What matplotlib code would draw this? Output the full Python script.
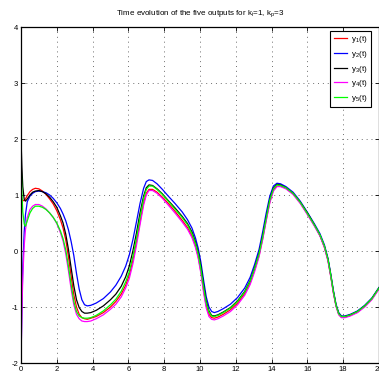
import matplotlib

matplotlib.use("Agg")
import matplotlib.pyplot as plt

# sample times
t = [0.0, 0.05, 0.1, 0.18, 0.25, 0.35, 0.5, 0.65, 0.8, 1.0, 1.2, 1.4, 1.6, 1.8, 2.0,
     2.2, 2.35, 2.5, 2.65, 2.8, 2.95, 3.1, 3.25, 3.4, 3.55, 3.7, 3.9, 4.2, 4.6, 5.0,
     5.3, 5.6, 5.85, 6.05, 6.25, 6.45, 6.65, 6.85, 7.0, 7.15, 7.35, 7.6, 7.9, 8.2,
     8.6, 9.0, 9.3, 9.55, 9.75, 9.9, 10.05, 10.2, 10.35, 10.5, 10.65, 10.8, 11.0,
     11.3, 11.7, 12.1, 12.5, 12.8, 13.05, 13.3, 13.5, 13.7, 13.9, 14.1, 14.3, 14.5,
     14.8, 15.2, 15.6, 16.0, 16.4, 16.7, 16.95, 17.15, 17.3, 17.45, 17.6, 17.75,
     17.9, 18.1, 18.4, 18.8, 19.2, 19.6, 20.0]

y1 = [0.95, 0.92, 0.90, 0.90, 0.93, 0.99, 1.06, 1.10, 1.12, 1.11, 1.07, 1.01, 0.93, 0.84, 0.72,
      0.56, 0.41, 0.20, -0.10, -0.45, -0.78, -1.00, -1.13, -1.19, -1.21, -1.22, -1.20, -1.17, -1.10, -1.00,
      -0.90, -0.77, -0.61, -0.43, -0.17, 0.16, 0.52, 0.86, 1.03, 1.10, 1.10, 1.05, 0.96, 0.86,
      0.71, 0.55, 0.42, 0.27, 0.09, -0.10, -0.37, -0.70, -0.98, -1.13, -1.19, -1.20, -1.18,
      -1.13, -1.05, -0.93, -0.76, -0.57, -0.34, -0.08, 0.22, 0.56, 0.88, 1.09, 1.16, 1.16,
      1.12, 1.02, 0.86, 0.66, 0.45, 0.28, 0.07, -0.17, -0.44, -0.74, -0.98, -1.13,
      -1.18, -1.18, -1.15, -1.09, -0.99, -0.86, -0.67]
y2 = [-2.0, -1.00, -0.30, 0.35, 0.65, 0.88, 0.98, 1.03, 1.06, 1.07, 1.06, 1.04, 1.00, 0.94, 0.86,
      0.76, 0.66, 0.54, 0.38, 0.17, -0.08, -0.40, -0.68, -0.87, -0.96, -0.98, -0.97, -0.93, -0.85, -0.73,
      -0.61, -0.45, -0.27, -0.07, 0.20, 0.52, 0.85, 1.12, 1.24, 1.27, 1.26, 1.20, 1.10, 0.99,
      0.85, 0.70, 0.56, 0.41, 0.23, 0.05, -0.20, -0.52, -0.82, -1.00, -1.08, -1.10, -1.08,
      -1.03, -0.95, -0.83, -0.66, -0.47, -0.24, 0.03, 0.34, 0.68, 0.98, 1.16, 1.21, 1.20,
      1.15, 1.05, 0.89, 0.69, 0.48, 0.31, 0.11, -0.13, -0.40, -0.70, -0.95, -1.10,
      -1.16, -1.16, -1.13, -1.07, -0.97, -0.84, -0.65]
y3 = [2.0, 1.50, 1.15, 0.92, 0.89, 0.93, 1.00, 1.05, 1.07, 1.08, 1.06, 1.02, 0.96, 0.88, 0.78,
      0.63, 0.50, 0.30, 0.03, -0.30, -0.62, -0.87, -1.01, -1.08, -1.11, -1.11, -1.10, -1.06, -0.98, -0.87,
      -0.77, -0.63, -0.46, -0.27, 0.00, 0.32, 0.68, 0.98, 1.13, 1.18, 1.17, 1.11, 1.02, 0.91,
      0.77, 0.62, 0.49, 0.34, 0.16, -0.02, -0.28, -0.60, -0.90, -1.07, -1.15, -1.16, -1.14,
      -1.09, -1.01, -0.89, -0.72, -0.53, -0.30, -0.04, 0.26, 0.60, 0.92, 1.12, 1.19, 1.18,
      1.13, 1.03, 0.87, 0.68, 0.46, 0.28, 0.08, -0.15, -0.42, -0.72, -0.97, -1.12,
      -1.17, -1.17, -1.14, -1.08, -0.98, -0.85, -0.66]
y4 = [-2.0, -1.10, -0.45, 0.10, 0.38, 0.60, 0.74, 0.80, 0.83, 0.83, 0.80, 0.75, 0.68, 0.60, 0.49,
      0.33, 0.18, -0.05, -0.35, -0.68, -0.96, -1.13, -1.21, -1.25, -1.26, -1.26, -1.25, -1.21, -1.14, -1.04,
      -0.95, -0.82, -0.66, -0.49, -0.23, 0.10, 0.47, 0.82, 1.00, 1.08, 1.08, 1.03, 0.94, 0.83,
      0.68, 0.52, 0.39, 0.24, 0.06, -0.13, -0.40, -0.74, -1.02, -1.17, -1.22, -1.23, -1.21,
      -1.16, -1.08, -0.96, -0.79, -0.60, -0.37, -0.10, 0.20, 0.54, 0.86, 1.07, 1.15, 1.15,
      1.11, 1.01, 0.85, 0.65, 0.44, 0.27, 0.06, -0.18, -0.45, -0.75, -0.99, -1.14,
      -1.19, -1.19, -1.16, -1.10, -1.00, -0.87, -0.68]
y5 = [1.65, 1.05, 0.70, 0.48, 0.44, 0.54, 0.68, 0.76, 0.80, 0.80, 0.78, 0.74, 0.68, 0.60, 0.50,
      0.36, 0.22, 0.02, -0.27, -0.60, -0.90, -1.08, -1.16, -1.19, -1.20, -1.20, -1.19, -1.15, -1.07, -0.96,
      -0.86, -0.72, -0.55, -0.37, -0.10, 0.23, 0.60, 0.94, 1.10, 1.16, 1.16, 1.10, 1.01, 0.90,
      0.75, 0.60, 0.47, 0.31, 0.13, -0.05, -0.32, -0.64, -0.93, -1.09, -1.16, -1.17, -1.15,
      -1.10, -1.02, -0.90, -0.73, -0.54, -0.31, -0.05, 0.25, 0.59, 0.91, 1.11, 1.18, 1.17,
      1.13, 1.03, 0.87, 0.67, 0.46, 0.29, 0.09, -0.15, -0.42, -0.72, -0.97, -1.12,
      -1.17, -1.17, -1.14, -1.08, -0.98, -0.85, -0.66]

series = [y1, y2, y3, y4, y5]
labels = [r"y$_1$(t)", r"y$_2$(t)", r"y$_3$(t)", r"y$_4$(t)", r"y$_5$(t)"]
colors = ["#ff0000", "#0000ff", "#000000", "#ff00ff", "#00ff00"]
xticks = list(range(0, 21, 2))
yticks = list(range(-2, 5))

plt.rcParams["font.family"] = ["Liberation Sans", "DejaVu Sans"]
plt.rcParams["mathtext.fontset"] = "custom"
plt.rcParams["mathtext.rm"] = "Liberation Sans"
plt.rcParams["mathtext.default"] = "regular"
plt.rcParams["axes.unicode_minus"] = False

fig = plt.figure(figsize=(3.79, 3.88), dpi=100)
ax = fig.add_axes([21 / 379, 25 / 388, 358 / 379, 336 / 388])

for ys, lab, c in zip(series, labels, colors):
    ax.plot(t, ys, color=c, lw=0.9, label=lab)

ax.set_xlim(0, 20)
ax.set_ylim(-2, 4)
ax.set_xticks(xticks)
ax.set_yticks(yticks)
ax.tick_params(direction="in", length=3, width=0.6, labelsize=5.5, pad=2,
               top=True, right=True)
ax.grid(True, color="#6e6e6e", linestyle=(0, (1.0, 4.0)), lw=0.7)
for sp in ax.spines.values():
    sp.set_linewidth(0.9)

ax.set_title(r"Time evolution of the five outputs for k$_{i}$=1, k$_{p}$=3",
             fontsize=5.8, pad=9)

leg = ax.legend(loc="upper right", bbox_to_anchor=(0.978, 0.988), borderaxespad=0,
                fontsize=5.8, fancybox=False, framealpha=1, edgecolor="black",
                handlelength=1.7, handletextpad=0.5, labelspacing=0.45, borderpad=0.4)
leg.get_frame().set_linewidth(0.8)

fig.savefig("out.png", dpi=100, facecolor="white")
